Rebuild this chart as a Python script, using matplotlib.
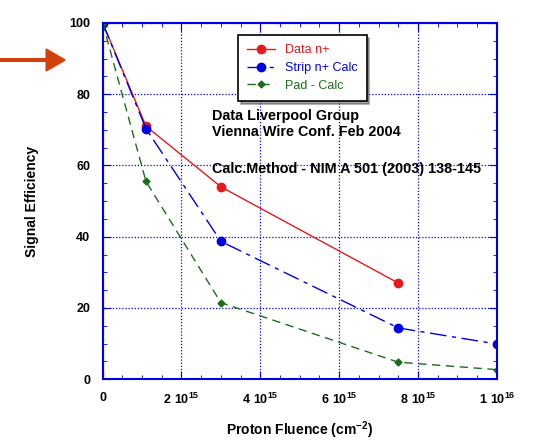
import matplotlib.pyplot as plt
from matplotlib.ticker import MultipleLocator
from matplotlib.patches import FancyArrow

# fluence in cm^-2
fluence_data = [0, 1.1e15, 3e15, 7.5e15]
eff_data = [100, 71, 54, 27]

fluence_calc = [0, 1.1e15, 3e15, 7.5e15, 1e16]
eff_strip = [100, 70.3, 38.7, 14.4, 9.9]
eff_pad = [100, 55.5, 21.5, 4.8, 2.7]

x_tick_labels = ['0', r'$\mathbf{2\ 10^{15}}$', r'$\mathbf{4\ 10^{15}}$',
                 r'$\mathbf{6\ 10^{15}}$', r'$\mathbf{8\ 10^{15}}$', r'$\mathbf{1\ 10^{16}}$']

plt.rcParams['font.family'] = ['Liberation Sans', 'DejaVu Sans']
plt.rcParams['mathtext.fontset'] = 'custom'
plt.rcParams['mathtext.rm'] = 'Liberation Sans'
plt.rcParams['mathtext.bf'] = 'Liberation Sans:bold'

red = '#e41a1c'
blue = '#0000e6'
green = '#1a6e1a'

fig = plt.figure(figsize=(5.43, 4.40), dpi=100)
ax = fig.add_axes([0.189, 0.138, 0.726, 0.81])

ax.plot(fluence_data, eff_data, color=red, lw=1, marker='o', ms=6, label='Data n+')
ax.plot(fluence_calc, eff_strip, color=blue, lw=1, marker='o', ms=6,
        dashes=(12, 4, 3, 4), label='Strip n+ Calc')
ax.plot(fluence_calc, eff_pad, color=green, lw=1, marker='D', ms=3.5,
        dashes=(6, 4), label='Pad - Calc')

ax.set_xlim(0, 1e16)
ax.set_ylim(0, 100)
ax.xaxis.set_minor_locator(MultipleLocator(5e14))
ax.yaxis.set_major_locator(MultipleLocator(20))
ax.yaxis.set_minor_locator(MultipleLocator(5))
ax.set_xticks([0, 2e15, 4e15, 6e15, 8e15, 1e16])
ax.set_xticklabels(x_tick_labels)
ax.tick_params(which='both', direction='in', top=True, right=True, color=blue)
ax.tick_params(which='major', length=6, labelsize=9, pad=9)
ax.tick_params(which='minor', length=3)
for lab in ax.get_yticklabels() + ax.get_xticklabels():
    lab.set_fontweight('bold')

ax.grid(True, which='major', color=blue, ls=(0, (1, 1.5)), lw=0.9)
for s in ax.spines.values():
    s.set_color(blue)
    s.set_linewidth(1.5)

ax.set_xlabel(r'Proton Fluence (cm$^{\mathbf{-2}}$)', fontsize=10, fontweight='bold', labelpad=9)
ax.set_ylabel('Signal Efficiency', fontsize=10, fontweight='bold', labelpad=22)

leg = ax.legend(loc='upper left', bbox_to_anchor=(0.343, 0.966), borderaxespad=0,
                fontsize=9, fancybox=False, shadow=True, edgecolor='black', framealpha=1,
                borderpad=0.75, labelspacing=0.45, handlelength=2.2)
leg.get_frame().set_linewidth(1.2)
for txt, c in zip(leg.get_texts(), [red, blue, green]):
    txt.set_color(c)

ax.text(0.278, 0.717, 'Data Liverpool Group\nVienna Wire Conf. Feb 2004',
        transform=ax.transAxes, fontsize=10.4, fontweight='bold', va='center', linespacing=1.2)
ax.text(0.278, 0.591, 'Calc.Method - NIM A 501 (2003) 138-145',
        transform=ax.transAxes, fontsize=10.4, fontweight='bold', va='center')

# arrow pointing at 100%
fig.patches.append(FancyArrow(0.0, 1 - 60 / 440, 0.12, 0, width=0.006,
                              head_width=0.05, head_length=0.035,
                              length_includes_head=True, color='#d2400c',
                              transform=fig.transFigure, figure=fig))

fig.savefig('out.png', dpi=100)
